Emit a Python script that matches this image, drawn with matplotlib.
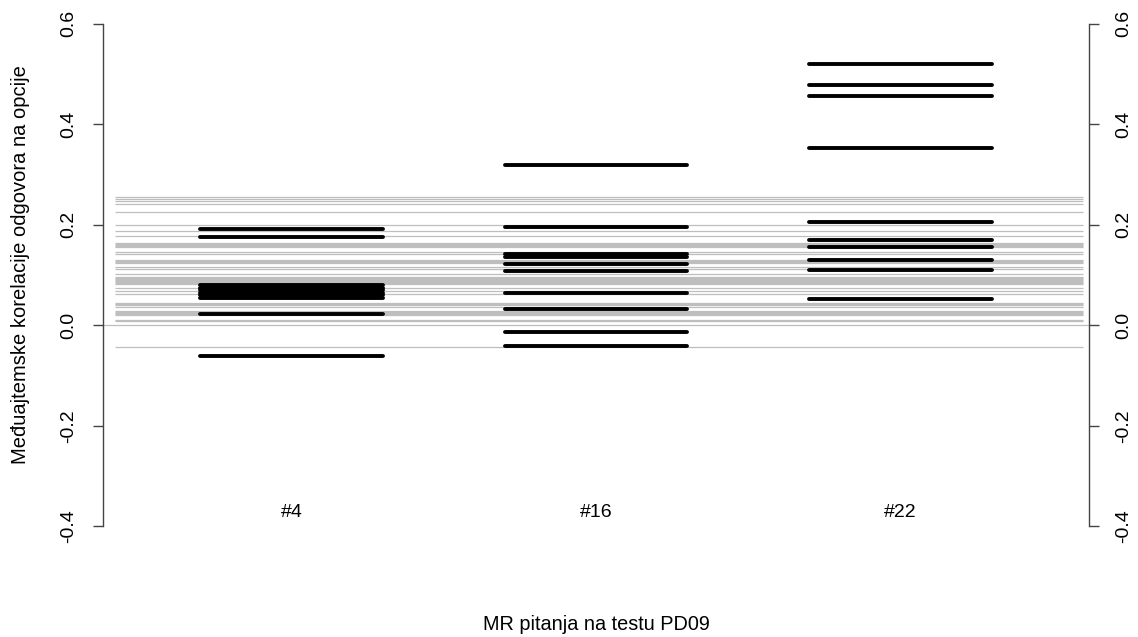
import matplotlib.pyplot as plt

plt.rcParams['font.family'] = ['Liberation Sans', 'DejaVu Sans']

# Item labels and their positions
items = ["#4", "#16", "#22"]
item_pos = [1, 2, 3]

# Option correlations for each selected item
corr_4 = [0.1926, 0.1755, 0.080, 0.075, 0.070, 0.065, 0.060, 0.055, 0.0223, -0.0607]
corr_16 = [0.3188, 0.1954, 0.143, 0.136, 0.1224, 0.1085, 0.064, 0.0322, -0.0135, -0.0408]
corr_22 = [0.5198, 0.4792, 0.4567, 0.3538, 0.2054, 0.170, 0.1556, 0.1297, 0.1099, 0.0521]

# Option correlations of all other items on the test (background)
corr_all = [0.256, 0.252, 0.247, 0.241, 0.226, 0.199, 0.188, 0.178,
            0.165, 0.163, 0.161, 0.159, 0.157, 0.146, 0.142,
            0.131, 0.129, 0.127, 0.125, 0.117, 0.112, 0.103,
            0.096, 0.094, 0.092, 0.090, 0.088, 0.086, 0.084, 0.082,
            0.074, 0.069, 0.062, 0.045, 0.043, 0.041, 0.037,
            0.028, 0.026, 0.024, 0.022, 0.020, 0.011, 0.009, -0.043]

yticks = [-0.4, -0.2, 0.0, 0.2, 0.4, 0.6]

fig = plt.figure(figsize=(11.38, 6.37), dpi=100)
ax = fig.add_axes([0.0905, 0.142, 0.8665, 0.852])

ax.set_xlim(0.38, 3.62)
ax.set_ylim(-0.44, 0.64)

ax.hlines(corr_all, 0.42, 3.60, color="#bebebe", lw=0.9, zorder=1)
ax.axhline(0, color="#bebebe", lw=0.9, zorder=1)

for pos, vals in zip(item_pos, [corr_4, corr_16, corr_22]):
    ax.hlines(vals, pos - 0.3, pos + 0.3, color="black", lw=2.8,
              capstyle="round", zorder=2)

for pos, lab in zip(item_pos, items):
    ax.text(pos, -0.373, lab, ha="center", va="center", fontsize=14)

# R-style axes: lines only between the first and last tick
for side in ["top", "bottom"]:
    ax.spines[side].set_visible(False)
for side in ["left", "right"]:
    ax.spines[side].set_bounds(-0.4, 0.6)
    ax.spines[side].set_color("#444444")
    ax.spines[side].set_linewidth(1.0)

ax.set_xticks([])
ax.set_yticks(yticks)
ax.set_yticklabels([f"{t:.1f}" for t in yticks])
ax.tick_params(axis="y", which="both", left=True, right=True,
               labelleft=True, labelright=True, length=7.5, width=1.0,
               color="#444444", pad=11, labelsize=14, labelrotation=90)
for lab in ax.get_yticklabels():
    lab.set_va("center")

fig.text(0.018, 0.584, "Međuajtemske korelacije odgovora na opcije",
         rotation=90, ha="center", va="center", fontsize=14.5)
fig.text(0.524, 0.019, "MR pitanja na testu PD09", ha="center", va="center",
         fontsize=14.3)

fig.savefig("out.png", dpi=100)
